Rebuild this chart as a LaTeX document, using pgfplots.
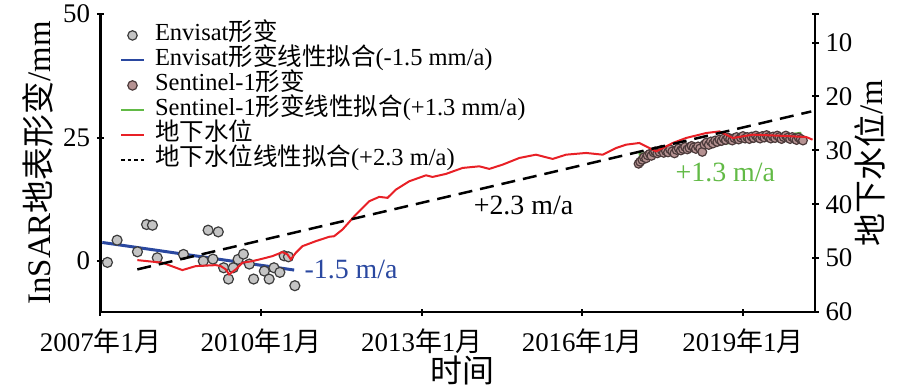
\documentclass[border=0pt]{standalone}
\usepackage{pgfplots}
\usepackage{pgfplotstable}
\pgfplotsset{compat=1.18}
\usepackage{fontspec}
\setmainfont{Liberation Serif}
\newfontfamily\cjk{Noto Sans CJK SC}
\newcommand\zh[1]{{\cjk #1}}
\definecolor{envfill}{RGB}{196,196,196}
\definecolor{envedge}{RGB}{60,60,60}
\definecolor{senfill}{RGB}{182,146,146}
\definecolor{senedge}{RGB}{75,58,58}
\definecolor{fitblue}{RGB}{42,72,160}
\definecolor{fitgreen}{RGB}{98,186,70}
\definecolor{gwred}{RGB}{232,32,38}

\pgfplotstableread{
x y
2007.13 -0.26
2007.31 4.23
2007.69 1.88
2007.86 7.40
2007.97 7.26
2008.06 0.67
2008.55 1.35
2008.92 0.00
2009.01 6.25
2009.10 0.40
2009.20 5.91
2009.30 -1.35
2009.39 -3.63
2009.48 -1.35
2009.57 0.34
2009.67 1.41
2009.78 -0.60
2009.86 -3.63
2010.06 -2.02
2010.15 -3.63
2010.24 -1.35
2010.35 -2.28
2010.43 1.07
2010.51 0.87
2010.63 -4.98
}\envisat

\pgfplotstableread{
x y
2017.05 19.7
2017.08 20.1
2017.12 20.5
2017.15 21.0
2017.19 20.8
2017.22 21.4
2017.26 21.7
2017.29 21.3
2017.33 22.0
2017.36 22.2
2017.40 21.8
2017.44 22.1
2017.48 22.5
2017.52 21.9
2017.56 22.3
2017.60 22.0
2017.64 22.6
2017.68 22.2
2017.72 21.8
2017.76 22.5
2017.80 22.8
2017.84 22.4
2017.88 22.7
2017.92 23.1
2017.96 22.6
2018.00 22.9
2018.04 23.3
2018.08 23.0
2018.12 22.7
2018.16 23.2
2018.20 22.8
2018.24 22.1
2018.28 23.6
2018.32 24.0
2018.36 23.5
2018.40 24.2
2018.44 23.8
2018.48 24.4
2018.52 24.1
2018.56 24.6
2018.60 24.3
2018.64 24.8
2018.68 24.5
2018.72 25.0
2018.76 24.7
2018.80 24.4
2018.84 24.9
2018.88 25.1
2018.92 24.6
2018.96 25.0
2019.00 25.3
2019.04 24.8
2019.08 25.1
2019.12 24.7
2019.16 25.2
2019.20 24.9
2019.24 25.4
2019.28 25.0
2019.32 24.8
2019.36 25.3
2019.40 25.0
2019.44 25.5
2019.48 25.1
2019.52 24.8
2019.56 25.2
2019.60 24.9
2019.64 25.4
2019.68 25.1
2019.72 24.7
2019.76 25.1
2019.80 25.4
2019.84 25.0
2019.88 24.7
2019.92 25.1
2019.96 24.8
2020.00 24.5
2020.04 25.0
2020.08 24.7
2020.12 24.4
}\sentinel

\pgfplotstableread{
x y
2007.688 50.37
2008.155 50.85
2008.529 52.22
2008.779 51.48
2009.153 51.30
2009.247 51.48
2009.340 52.09
2009.402 53.02
2009.527 52.09
2009.650 50.85
2009.837 50.56
2010.024 50.11
2010.211 49.63
2010.398 48.89
2010.492 49.31
2010.555 50.24
2010.649 49.00
2010.772 47.78
2011.022 46.85
2011.271 46.04
2011.364 45.93
2011.520 44.69
2011.770 41.91
2012.019 39.44
2012.206 38.63
2012.361 38.81
2012.518 37.28
2012.766 35.74
2013.079 34.63
2013.202 34.93
2013.452 34.37
2013.763 33.26
2014.075 32.96
2014.262 33.44
2014.510 32.65
2014.822 31.41
2015.134 30.80
2015.445 31.59
2015.695 30.80
2016.069 30.48
2016.380 30.80
2016.630 29.56
2016.817 28.94
2017.065 28.63
2017.377 30.19
2017.688 28.63
2017.938 27.70
2018.312 26.78
2018.561 26.48
2018.810 27.70
2019.183 27.09
2019.682 27.28
2020.181 27.52
2020.299 28.02
}\groundwater

\pgfplotsset{
  common/.style={
    scale only axis, width=357.25bp, height=149bp,
    xmin=2007, xmax=2020.345,
    tick align=inside, major tick length=3.5bp,
    tick style={line width=1bp, black},
    /pgf/number format/assume math mode=true,
    tick label style={font=\fontsize{13.5}{13.5}\selectfont},
    clip=false,
  },
  noarrows/.style={
    axis line style={-, line width=1.1bp},
    every outer x axis line/.append style={-},
    every outer y axis line/.append style={-},
    every inner x axis line/.append style={-},
    every inner y axis line/.append style={-},
  }
}

\begin{document}
\begin{tikzpicture}
\useasboundingbox (-50.25bp,-39bp) rectangle (398.75bp,156bp);
\begin{axis}[common,
  axis x line=bottom, axis y line=left, noarrows,
  ymin=-10.3, ymax=50,
  ytick={0,25,50},
  xtick={2007,2010,2013,2016,2019},
  xticklabels={2007\zh{年}1\zh{月},2010\zh{年}1\zh{月},2013\zh{年}1\zh{月},2016\zh{年}1\zh{月},2019\zh{年}1\zh{月}},
  xticklabel style={yshift=-3bp},
  xlabel={\zh{时间}},
  ylabel={InSAR\zh{地表形变}/mm},
  xlabel style={at={(axis description cs:0.506,-0.195)}, anchor=center, font=\fontsize{16}{16}\selectfont},
  ylabel style={at={(axis description cs:-0.088,0.5)}, anchor=center, font=\fontsize{16.5}{16.5}\selectfont},
  legend style={at={(axis description cs:0.0273,0.97)}, anchor=north west,
    draw=none, fill=none, inner sep=0pt, outer sep=0pt,
    font=\fontsize{12.3}{12.3}\selectfont,
    nodes={inner sep=0pt, text height=9bp, text depth=3.5bp},
    row sep=0pt, column sep=5bp},
  legend cell align=left,
]
\addlegendimage{legend image code/.code={\draw[fill=envfill, draw=envedge, line width=0.6bp] (5.75bp,0bp) circle (2.35bp);}}
\addlegendentry{Envisat\zh{形变}}
\addlegendimage{legend image code/.code={\draw[fitblue, line width=1bp] (0bp,0bp) -- (11.5bp,0bp);}}
\addlegendentry{Envisat\zh{形变线性拟合}(-1.5 mm/a)}
\addlegendimage{legend image code/.code={\draw[fill=senfill, draw=senedge, line width=0.6bp] (5.75bp,0bp) circle (2.35bp);}}
\addlegendentry{Sentinel-1\zh{形变}}
\addlegendimage{legend image code/.code={\draw[fitgreen, line width=1bp] (0bp,0bp) -- (11.5bp,0bp);}}
\addlegendentry{Sentinel-1\zh{形变线性拟合}(+1.3 mm/a)}
\addlegendimage{legend image code/.code={\draw[gwred, line width=1bp] (0bp,0bp) -- (11.5bp,0bp);}}
\addlegendentry{\zh{地下水位}}
\addlegendimage{legend image code/.code={\draw[black, line width=1bp, dash pattern=on 1.8bp off 1.5bp] (0bp,0bp) -- (11.5bp,0bp);}}
\addlegendentry{\zh{地下水位线性拟合}(+2.3 m/a)}

\addplot[forget plot, only marks, mark=*, mark size=2.5bp,
  mark options={fill=envfill, draw=envedge, line width=0.6bp}] table[x=x,y=y] {\envisat};
\addplot[forget plot, only marks, mark=*, mark size=2.2bp,
  mark options={fill=senfill, draw=senedge, line width=0.6bp}] table[x=x,y=y] {\sentinel};
\addplot[forget plot, fitblue, line width=1.5bp] coordinates {(2007.034,3.77) (2010.617,-1.81)};
\addplot[forget plot, fitgreen, line width=1.5bp] coordinates {(2017.052,21.57) (2020.09,25.87)};

\node[text=fitblue, font=\fontsize{14}{14}\selectfont] at (axis cs:2011.68,-1.6) {-1.5 m/a};
\node[text=black, font=\fontsize{14}{14}\selectfont] at (axis cs:2014.90,11.3) {+2.3 m/a};
\node[text=fitgreen, font=\fontsize{14}{14}\selectfont] at (axis cs:2018.67,18.0) {+1.3 m/a};
\end{axis}

\begin{axis}[common,
  axis x line=none, axis y line=right, noarrows,
  ymin=4.69, ymax=60, y dir=reverse,
  ytick={10,20,30,40,50,60},
  extra y ticks={4.69}, extra y tick labels={},
  ylabel={\zh{地下水位}/m},
  ylabel style={at={(axis description cs:1.077,0.5)}, anchor=center, font=\fontsize{16.5}{16.5}\selectfont},
]
\addplot[gwred, line width=1bp] table[x=x,y=y] {\groundwater};
\addplot[black, line width=1.25bp, dash pattern=on 7bp off 4bp] coordinates {(2007.688,52.09) (2020.275,22.78)};
\end{axis}
\end{tikzpicture}
\end{document}
